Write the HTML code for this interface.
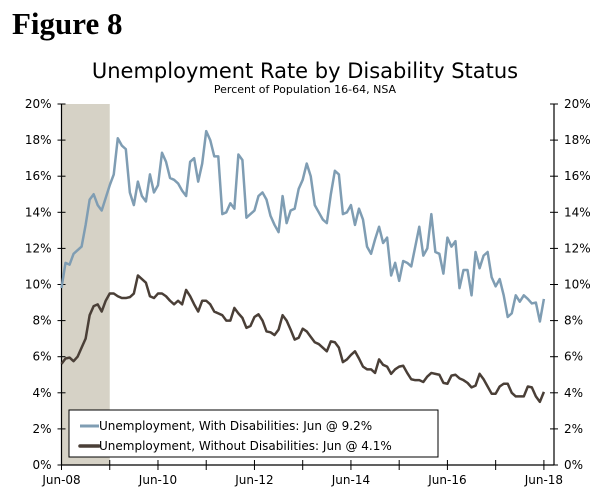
<!DOCTYPE html>
<html><head><meta charset="utf-8">
<style>
body{margin:0;background:#fff;width:600px;height:498px;overflow:hidden;font-family:"DejaVu Sans","Liberation Sans",sans-serif;}
svg{display:block}
</style></head>
<body>
<svg id="chart" width="600" height="498">
<text x="12" y="34" font-family="Liberation Serif,serif" font-weight="bold" font-size="31" fill="#000">Figure 8</text>
<text x="305" y="78" text-anchor="middle" font-size="21" fill="#000">Unemployment Rate by Disability Status</text>
<text x="305" y="93" text-anchor="middle" font-size="11" fill="#000">Percent of Population 16-64, NSA</text>
<g id="plot"></g>
</svg>
<script>
const months = 121; // Jun-08 .. Jun-18 monthly
const yTicks = [0,2,4,6,8,10,12,14,16,18,20];
const xLabels = ["Jun-08","Jun-10","Jun-12","Jun-14","Jun-16","Jun-18"];
const xLabelMonths = [0,24,48,72,96,120];
const recession = [0,12];
const withDis = [9.8,11.2,11.1,11.7,11.9,12.1,13.3,14.7,15.0,14.4,14.1,14.8,15.5,16.1,18.1,17.7,17.5,15.1,14.4,15.7,14.9,14.6,16.1,15.1,15.5,17.3,16.8,15.9,15.8,15.6,15.2,14.9,16.8,17.0,15.7,16.7,18.5,18.0,17.1,17.1,13.9,14.0,14.5,14.2,17.2,16.9,13.7,13.9,14.1,14.9,15.1,14.7,13.8,13.3,12.9,14.9,13.4,14.1,14.2,15.3,15.8,16.7,16.0,14.4,14.0,13.6,13.4,15.0,16.3,16.1,13.9,14.0,14.4,13.3,14.2,13.6,12.1,11.7,12.5,13.2,12.3,12.6,10.5,11.2,10.2,11.3,11.2,11.0,12.1,13.2,11.6,12.0,13.9,11.8,11.7,10.6,12.6,12.1,12.4,9.8,10.8,10.8,9.4,11.8,10.9,11.6,11.8,10.4,9.9,10.3,9.4,8.2,8.4,9.4,9.05,9.4,9.2,8.95,9.0,7.95,9.2];
const withoutDis = [5.6,5.9,5.95,5.75,6.0,6.5,7.0,8.3,8.8,8.9,8.5,9.1,9.5,9.5,9.35,9.25,9.25,9.3,9.5,10.5,10.3,10.1,9.35,9.25,9.5,9.5,9.35,9.1,8.9,9.1,8.9,9.7,9.35,8.9,8.5,9.1,9.1,8.9,8.5,8.4,8.3,8.0,8.0,8.7,8.4,8.15,7.6,7.7,8.2,8.35,8.0,7.4,7.35,7.2,7.5,8.3,8.0,7.5,6.95,7.05,7.55,7.4,7.1,6.8,6.7,6.5,6.3,6.85,6.8,6.5,5.7,5.85,6.1,6.3,5.9,5.45,5.3,5.3,5.1,5.85,5.55,5.45,5.05,5.3,5.45,5.5,5.1,4.75,4.7,4.7,4.6,4.9,5.1,5.05,5.0,4.55,4.5,4.95,5.0,4.8,4.7,4.55,4.3,4.4,5.05,4.75,4.35,3.95,3.95,4.35,4.5,4.5,4.0,3.8,3.8,3.8,4.35,4.3,3.8,3.5,4.05];

const L=61.5, R=554, T=104, B=465, X0=61.5, XS=4.02;
const x = i => X0 + i*XS;
const y = v => B - (v/20)*(B-T);
const NS="http://www.w3.org/2000/svg";
const g=document.getElementById('plot');
function mk(tag, attrs){const e=document.createElementNS(NS,tag);for(const k in attrs)e.setAttribute(k,attrs[k]);g.appendChild(e);return e;}

const rec=mk('rect',{x:x(recession[0]),y:T,width:x(recession[1])-x(recession[0]),height:B-T,fill:'#d6d2c6'});



let ax=mk('line',{x1:L,y1:T,x2:L,y2:B,stroke:'#000','stroke-width':1.2});


ax=mk('line',{x1:R,y1:T,x2:R,y2:B,stroke:'#000','stroke-width':1.2});


ax=mk('line',{x1:L,y1:B,x2:R,y2:B,stroke:'#000','stroke-width':1.2});



yTicks.forEach(v=>{
  const yy=y(v);
  mk('line',{x1:L-4,y1:yy,x2:L+4,y2:yy,stroke:'#000','stroke-width':1});
  mk('line',{x1:R-4,y1:yy,x2:R+4,y2:yy,stroke:'#000','stroke-width':1});
  const t1=mk('text',{x:L-10,y:yy+4,'text-anchor':'end','font-size':12,fill:'#000'});
  t1.textContent=v+'%';
  
  
  const t2=mk('text',{x:R+10,y:yy+4,'text-anchor':'start','font-size':12,fill:'#000'});
  t2.textContent=v+'%';
  
  
});
for(let m=0;m<=120;m+=12){
  mk('line',{x1:x(m),y1:B-5,x2:x(m),y2:B+5,stroke:'#000','stroke-width':1});
}
xLabels.forEach((s,k)=>{
  const t=mk('text',{x:x(xLabelMonths[k]),y:B+19,'text-anchor':'middle','font-size':12,fill:'#000'});
  t.textContent=s;
  
  
});

function line(data,color,w){
  return mk('polyline',{points:data.map((v,i)=>x(i)+','+y(v)).join(' '),fill:'none',stroke:color,'stroke-width':w,'stroke-linejoin':'round'});
}
const l1=line(withDis,'#7f9db3',2.5);


const l2=line(withoutDis,'#4a3f37',2.5);



const lg=mk('rect',{x:69,y:410,width:369,height:47,fill:'#fff',stroke:'#000','stroke-width':1});


mk('line',{x1:80,y1:426,x2:99,y2:426,stroke:'#7f9db3','stroke-width':3});
mk('line',{x1:80,y1:446,x2:99,y2:446,stroke:'#4a3f37','stroke-width':3.5,'stroke-linecap':'round'});
const e1=mk('text',{x:99,y:430,'font-size':12,fill:'#000'});
e1.textContent='Unemployment, With Disabilities: Jun @ 9.2%';


const e2=mk('text',{x:99,y:450,'font-size':12,fill:'#000'});
e2.textContent='Unemployment, Without Disabilities: Jun @ 4.1%';


</script>
</body></html>
